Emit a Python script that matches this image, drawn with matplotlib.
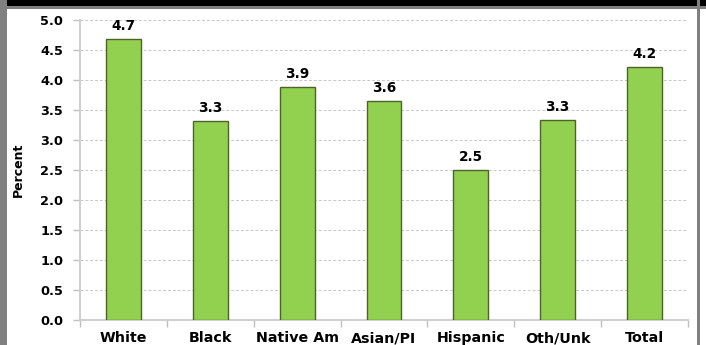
import matplotlib
matplotlib.use("Agg")
import matplotlib.pyplot as plt
from matplotlib.patches import Rectangle

categories = ["White", "Black", "Native Am", "Asian/PI", "Hispanic", "Oth/Unk", "Total"]
percent = [4.68, 3.31, 3.88, 3.65, 2.50, 3.33, 4.21]
yticks = [0.0, 0.5, 1.0, 1.5, 2.0, 2.5, 3.0, 3.5, 4.0, 4.5, 5.0]

plt.rcParams["font.family"] = ["DejaVu Sans"]

W, H = 706, 345
fig = plt.figure(figsize=(W / 100, H / 100), dpi=100)
fig.patch.set_facecolor("white")

# frame: black band on top, grey borders on the sides
fig.add_artist(Rectangle((0, 1 - 6 / H), 1, 6 / H, transform=fig.transFigure,
                         facecolor="black", edgecolor="none"))
fig.add_artist(Rectangle((0, 1 - 9 / H), 1, 3 / H, transform=fig.transFigure,
                         facecolor="#808080", edgecolor="none"))
fig.add_artist(Rectangle((0, 0), 7 / W, 1, transform=fig.transFigure,
                         facecolor="#808080", edgecolor="none"))
fig.add_artist(Rectangle((697 / W, 0), 3 / W, 1, transform=fig.transFigure,
                         facecolor="#808080", edgecolor="none"))

ax = fig.add_axes([80 / W, 1 - 320 / H, (688 - 80) / W, 300 / H])
x = list(range(len(categories)))
ax.bar(x, percent, width=0.4, color="#92D050", edgecolor="#4F6228", linewidth=1.0, zorder=3)

for xi, v in zip(x, percent):
    ax.annotate(f"{v:.1f}", (xi, v), xytext=(0, 4.5), textcoords="offset points",
                ha="center", va="bottom", fontsize=9.8, fontweight="bold", zorder=4)

ax.set_xlim(-0.5, len(categories) - 0.5)
ax.set_ylim(0, 5)
ax.set_yticks(yticks)
ax.set_yticklabels([f"{t:.1f}" for t in yticks], fontsize=9.3, fontweight="bold")
ax.yaxis.grid(True, linestyle=(0, (3, 2)), color="#c8c8c8", linewidth=0.7, zorder=0)

ax.set_xticks(x)
ax.set_xticklabels(categories, fontsize=10.3, fontweight="bold")
ax.tick_params(axis="x", length=0, pad=8)
ax.set_xticks([i - 0.5 for i in range(len(categories) + 1)], minor=True)
ax.tick_params(axis="x", which="minor", length=5, color="#bfbfbf", width=1)
ax.tick_params(axis="y", length=5, color="#bfbfbf", width=1, pad=7)

ax.set_ylabel("Percent", fontsize=9, fontweight="bold", labelpad=11)

for side in ["top", "right"]:
    ax.spines[side].set_visible(False)
for side in ["left", "bottom"]:
    ax.spines[side].set_color("#d0d0d0")
    ax.spines[side].set_linewidth(1.5)

fig.savefig("out.png", dpi=100)
